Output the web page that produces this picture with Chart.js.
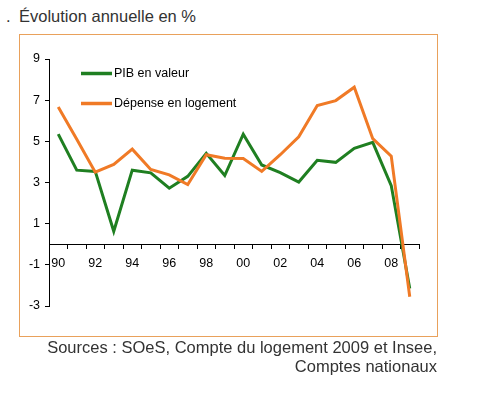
<!DOCTYPE html>
<html>
<head>
<meta charset="utf-8">
<script src="https://cdn.jsdelivr.net/npm/chart.js@4"></script>
<style>
  html, body { margin: 0; padding: 0; background: #fff; }
  body { width: 480px; height: 395px; position: relative; overflow: hidden; font-family: Arial, "Liberation Sans", sans-serif; }
  .txt { position: absolute; font-size: 16.5px; line-height: 19.5px; color: #333; white-space: nowrap; }
  #box { position: absolute; left: 19px; top: 34px; width: 417px; height: 301px; border: 1px solid #e9a15b; }
  #wrap { position: absolute; left: 0; top: 0; width: 480px; height: 395px; }
</style>
</head>
<body>
<div class="txt" style="left:6px; top:6.5px;">.</div>
<div class="txt" id="title" style="left:19px; top:6.5px;">Évolution annuelle en %</div>
<div id="box"></div>
<div id="wrap"><canvas id="c" width="480" height="395"></canvas></div>
<div class="txt" style="right:43px; top:337.5px; text-align:right;">Sources : SOeS, Compte du logement 2009 et Insee,<br>Comptes nationaux</div>
<script>
// ---- data ----
const categories = ['90','91','92','93','94','95','96','97','98','99','00','01','02','03','04','05','06','07','08','09'];
const shownTickLabels = ['90','92','94','96','98','00','02','04','06','08'];
const yTicks = [9, 7, 5, 3, 1, -1, -3];
const pibLabel = 'PIB en valeur';
const pibValues = [5.35, 3.6, 3.54, 0.63, 3.6, 3.47, 2.72, 3.3, 4.42, 3.34, 5.35, 3.85, 3.48, 3.02, 4.08, 3.98, 4.66, 4.95, 2.85, -2.15];
const logLabel = 'Dépense en logement';
const logValues = [6.67, 5.1, 3.5, 3.88, 4.62, 3.63, 3.37, 2.9, 4.35, 4.18, 4.17, 3.54, 4.35, 5.22, 6.74, 6.98, 7.63, 5.13, 4.28, -2.55];

const GREEN = '#1f7f21';
const ORANGE = '#f07a26';
const FONT = 'Arial, "Liberation Sans", sans-serif';

const legendPlugin = {
  id: 'customLegend',
  afterDraw(chart) {
    const ctx = chart.ctx;
    const rows = [73.5, 103.5];
    ctx.save();
    chart.data.datasets.forEach((ds, i) => {
      const y = rows[i];
      ctx.strokeStyle = ds.borderColor;
      ctx.lineWidth = 3.5;
      ctx.lineCap = 'butt';
      ctx.beginPath();
      ctx.moveTo(81, y);
      ctx.lineTo(112, y);
      ctx.stroke();
      ctx.fillStyle = '#000';
      ctx.font = '12.5px ' + FONT;
      ctx.textBaseline = 'middle';
      ctx.textAlign = 'left';
      ctx.fillText(ds.label, 114, y);
    });
    ctx.restore();
  }
};

new Chart(document.getElementById('c'), {
  type: 'line',
  data: {
    labels: categories,
    datasets: [
      { label: pibLabel, data: pibValues, borderColor: GREEN, backgroundColor: GREEN, borderWidth: 3, pointRadius: 0, tension: 0, order: 2 },
      { label: logLabel, data: logValues, borderColor: ORANGE, backgroundColor: ORANGE, borderWidth: 3, pointRadius: 0, tension: 0, order: 1 }
    ]
  },
  options: {
    responsive: false,
    animation: false,
    events: [],
    layout: { padding: { left: 19, top: 59, right: 61, bottom: 89 } },
    plugins: { legend: { display: false }, tooltip: { enabled: false }, title: { display: false } },
    scales: {
      x: {
        type: 'category',
        position: { y: 0 },
        offset: true,
        grid: { display: true, offset: true, drawOnChartArea: false, drawTicks: true, tickLength: 4, color: '#000', lineWidth: 1 },
        border: { display: true, color: '#000', width: 1 },
        ticks: {
          autoSkip: false, maxRotation: 0, minRotation: 0, padding: 8,
          color: '#000', font: { family: FONT, size: 12.5 },
          callback: function(value, index) {
            const lab = categories[index];
            return shownTickLabels.includes(lab) ? lab : '';
          }
        }
      },
      y: {
        type: 'linear',
        min: -3, max: 9,
        afterFit: (scale) => { scale.width = 30; },
        afterBuildTicks: (scale) => { scale.ticks = yTicks.map(v => ({ value: v })); },
        grid: { display: true, drawOnChartArea: false, drawTicks: true, tickLength: 4, color: '#000', lineWidth: 1 },
        border: { display: true, color: '#000', width: 1 },
        ticks: { padding: 5, color: '#000', font: { family: FONT, size: 12.5 } }
      }
    }
  },
  plugins: [legendPlugin]
});
</script>
</body>
</html>
